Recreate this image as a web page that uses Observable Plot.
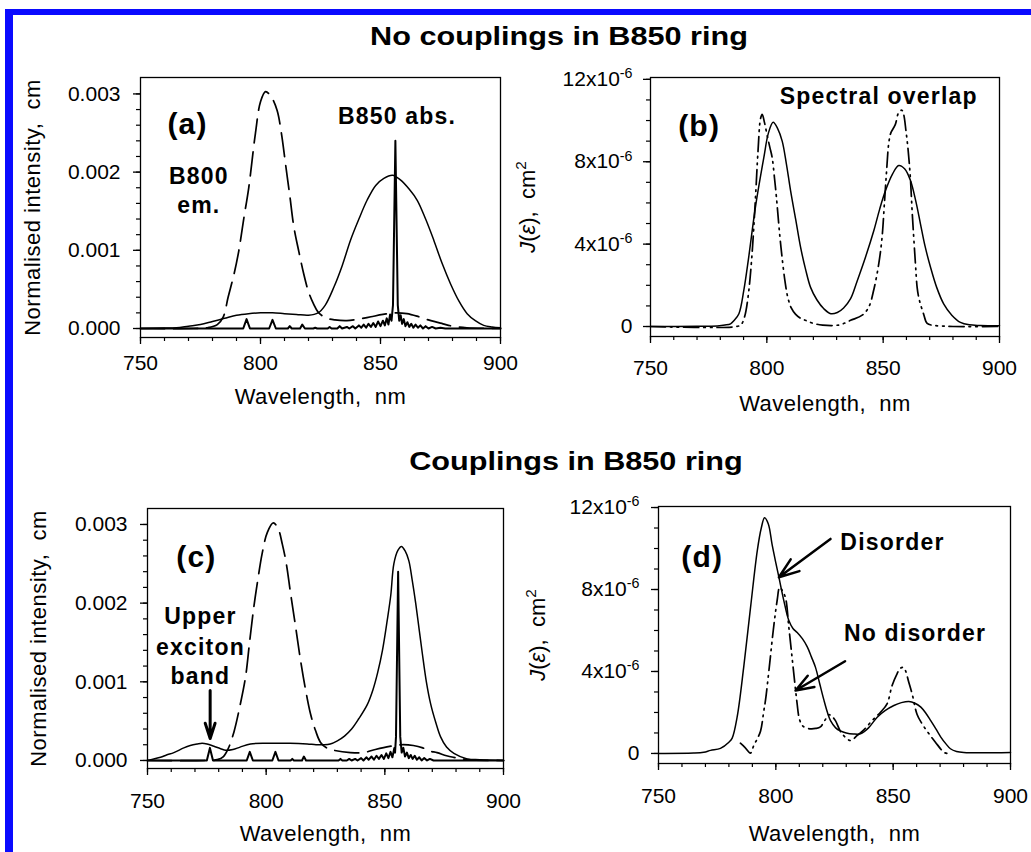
<!DOCTYPE html>
<html><head><meta charset="utf-8">
<script src="https://cdn.jsdelivr.net/npm/d3@7"></script>
<script src="https://cdn.jsdelivr.net/npm/@observablehq/plot@0.6"></script>
<style>
body{margin:0;background:#fff;}
#fig{position:relative;width:1031px;height:852px;overflow:hidden;background:#fff;font-family:"Liberation Sans",Arial,sans-serif;color:#000;}
.bt{position:absolute;left:5px;top:9px;width:1026px;height:6px;background:#0a0aff;}
.bl{position:absolute;left:5px;top:9px;width:8px;height:843px;background:#0a0aff;}
.title{position:absolute;font-weight:bold;font-size:25px;line-height:25px;white-space:nowrap;transform:translateX(-50%) scaleX(1.225);}
</style></head><body><div id="fig"></div>
<script>
// ---------- tick values ----------
const wlMajor = [750, 800, 850, 900];
const wlMinor = [750, 760, 770, 780, 790, 800, 810, 820, 830, 840, 850, 860, 870, 880, 890, 900];
const intMajor = [0, 0.001, 0.002, 0.003];
const intMinor = [0, 0.0002, 0.0004, 0.0006, 0.0008, 0.001, 0.0012, 0.0014, 0.0016, 0.0018, 0.002, 0.0022, 0.0024, 0.0026, 0.0028, 0.003];
const jMajor = [0, 4, 8, 12];            // units of 1e-6 cm^2
const jMinor = [0, 1, 2, 3, 4, 5, 6, 7, 8, 9, 10, 11, 12];

// ---------- panel (a) ----------
const aEmission = [[750,0],[772,0],[778,0.00001],[782,0.00005],[784.5,0.00015],[786.5,0.0004],[789,0.0007],[791,0.001],[793,0.0014],[795.1,0.0018],[797.9,0.0025],[800,0.0029],[802.1,0.00303],[804.5,0.00296],[806.9,0.00279],[808.7,0.0025],[810.4,0.00211],[812.2,0.0017],[813.9,0.0013],[816,0.00098],[818,0.0007],[820,0.00047],[822,0.00032],[824,0.00021],[827,0.00014],[831,0.00011],[836,0.0001],[841,0.00012],[846,0.00015],[851,0.00018],[856,0.0002],[861,0.00019],[866,0.00015],[871,0.0001],[876,0.00006],[880,0.00003],[886,0.00001],[900,0]];
const aAbsorption = [[750,0],[760,0.000005],[765,0.00001],[770,0.00003],[775,0.00005],[780,0.00009],[785,0.00013],[790,0.00017],[795,0.00019],[800,0.0002],[805,0.0002],[810,0.00019],[815,0.00018],[820,0.00017],[824,0.0002],[827,0.0003],[830.6,0.00053],[834,0.0008],[837.5,0.00113],[841,0.0014],[844.4,0.00164],[848,0.00183],[851.4,0.00192],[855,0.00196],[858.3,0.0019],[862,0.00178],[865.3,0.00164],[868.8,0.0014],[872.2,0.00113],[875.7,0.00083],[879.2,0.00057],[882.7,0.00035],[886.1,0.00019],[889.5,0.0001],[893,0.00004],[896.5,0.00002],[900,0.00001]];
const aSticks = [[750,0],[792.8,0],[794.2,0.00012],[795.6,0],[803.6,0],[805,0.00011],[806.4,0],[811.4,0],[812.2,0.00003],[813,0],[816.5,0],[817.4,0.00005],[818.5,0],[822,0],[822.8,0.00001],[823.6,0],[828,0],[828.8,0.00002],[829.6,0],[832,0],[833,0.00003],[834,0],[836,0.00002],[837,0],[838.5,0.00003],[839.5,0],[841,0.00004],[842,0.00001],[843,0.00005],[844,0.00001],[845,0.00006],[846,0.00002],[847,0.00007],[848,0.00002],[849,0.00009],[850,0.00003],[851,0.0001],[851.8,0.00004],[852.6,0.00013],[853.3,0.00005],[854,0.00018],[854.6,0.0001],[855.2,0.0003],[856.2,0.0024],[857.2,0.0003],[857.8,0.0001],[858.4,0.00017],[859,0.00006],[859.7,0.00012],[860.4,0.00003],[861.2,0.00008],[862,0.00002],[862.8,0.00006],[863.7,0.00001],[864.6,0.00005],[865.6,0.00001],[866.6,0.00004],[867.7,0],[868.8,0.00003],[870,0],[871.5,0.00002],[873,0],[875,0.00001],[877,0],[900,0]];

// ---------- panel (b) (values in 1e-6 cm^2) ----------
const bOverlap = [[750,0],[770,0.01],[778.7,0.03],[782,0.07],[784.4,0.13],[786,0.3],[788,0.62],[790.1,1.75],[792.2,3.36],[795.1,5.8],[798.7,8.2],[800.7,9.4],[802.7,9.92],[804.7,9.6],[806.6,9.0],[808.4,7.9],[810.2,6.6],[812.4,5.2],[814.5,3.85],[816.6,2.8],[818.8,1.9],[821.5,1.3],[824.5,0.86],[827.5,0.62],[830.3,0.68],[833,0.9],[836,1.35],[838.8,2.2],[842.5,3.4],[846,4.66],[848.5,5.7],[851,6.6],[854,7.4],[856.7,7.82],[859.3,7.65],[861.7,7.1],[864,6.1],[866,5.0],[868,3.9],[870.3,2.9],[873,1.9],[876,1.1],[879.5,0.55],[883.2,0.2],[887,0.08],[891.8,0.05],[900,0.04]];
const bOverlap2 = [[750,0],[787,0],[789,0.1],[790.5,0.5],[792,1.5],[793.5,3.3],[795,6],[796.2,8.5],[797.3,10.1],[798,10.3],[799,9.9],[800.1,9.3],[801.3,8.7],[802.3,8.2],[803.3,7.2],[804.1,6.3],[805.5,4.5],[806.5,3.4],[807.8,2.2],[809,1.42],[810.5,0.9],[812.3,0.6],[814.5,0.4],[816.6,0.3],[820,0.15],[824,0.07],[828.8,0.05],[832,0.1],[836,0.3],[841,0.55],[843.8,0.94],[846,1.8],[848.1,3.04],[849.5,4.3],[850.6,6.1],[851.5,7.6],[852.4,8.9],[853.3,9.4],[855.2,9.8],[856.7,10.4],[858,10.5],[858.8,10.3],[859.8,9.5],[860.7,8.6],[861.7,7.2],[862.5,5.5],[863.9,3.0],[864.6,1.9],[865.3,1.4],[866,1.1],[867.4,0.6],[868.9,0.15],[872,0.05],[876,0.02],[880,0],[900,0]];

// ---------- panel (c) ----------
const cEmission = [[750,0],[774,0],[779.4,0.00001],[782,0.00005],[784,0.00015],[786.4,0.00036],[789,0.0007],[791.3,0.00106],[793,0.0015],[794.8,0.00195],[796.5,0.0023],[798.3,0.00263],[800.5,0.0029],[803,0.00302],[805,0.00295],[806.8,0.00275],[808.5,0.0025],[810.3,0.00212],[812.4,0.0017],[814.5,0.00127],[816.6,0.0009],[818.7,0.00059],[820.8,0.00038],[822.9,0.00023],[825.5,0.00016],[828.5,0.00013],[835.5,0.0001],[841,0.0001],[846,0.00014],[852,0.00018],[857,0.0002],[862,0.00019],[866,0.00016],[869,0.00012],[872,0.0001],[876,0.00006],[879,0.00004],[885,0.00001],[900,0]];
const cAbsorption = [[750,0],[755.5,0.00004],[758,0.00007],[761.1,0.0001],[765.3,0.00016],[768,0.00019],[770.9,0.00021],[773,0.00022],[775.1,0.00021],[778,0.00018],[780.8,0.00015],[783,0.00013],[786,0.00014],[789,0.00017],[793.4,0.00021],[800,0.00022],[805,0.00022],[810,0.00022],[817.3,0.00021],[821,0.0002],[824,0.0002],[827,0.00021],[830,0.00025],[833,0.00031],[836,0.0004],[839,0.00053],[842.6,0.00071],[845,0.0009],[847,0.00112],[849,0.0014],[851,0.00178],[852.5,0.0021],[853.8,0.0025],[855.5,0.00267],[857,0.00272],[858.6,0.00266],[860.1,0.00254],[861.5,0.0023],[863,0.002],[864.4,0.00168],[865.8,0.00136],[867.5,0.001],[869.3,0.00072],[871.5,0.00048],[873.5,0.0003],[876,0.00017],[879.1,0.00009],[884.7,0.00002],[890,0.00001],[900,0]];
const cSticks = [[750,0],[775,0],[776.3,0.00016],[777.6,0],[791.8,0],[793.1,0.00011],[794.4,0],[802.6,0],[803.9,0.00011],[805.2,0],[810.3,0],[811,0.00002],[811.7,0],[815.1,0],[815.9,0.00005],[816.8,0],[830.5,0],[831.3,0.00002],[832.1,0],[834,0],[835,0.00002],[836,0],[837.5,0.00002],[838.5,0],[840,0.00003],[841,0],[842.2,0.00004],[843.2,0.00001],[844.4,0.00005],[845.4,0.00001],[846.5,0.00006],[847.5,0.00002],[848.6,0.00007],[849.6,0.00002],[850.6,0.00009],[851.5,0.00003],[852.4,0.00011],[853.2,0.00004],[854,0.00016],[854.3,0.0001],[854.7,0.0003],[855.6,0.0024],[856.5,0.0003],[857.1,0.0001],[857.8,0.00016],[858.5,0.00005],[859.3,0.0001],[860.1,0.00003],[860.9,0.00007],[861.7,0.00002],[862.6,0.00006],[863.5,0.00001],[864.5,0.00004],[865.5,0],[866.6,0.00003],[867.8,0],[869,0.00002],[870.5,0],[900,0]];

// ---------- panel (d) (values in 1e-6 cm^2) ----------
const dDisorder = [[750,0],[765,0.02],[769.3,0.06],[772.2,0.15],[776.4,0.25],[780,0.55],[781.4,0.75],[783.5,1.77],[786.3,4.2],[789.2,7.1],[792.1,9.9],[793.8,11.0],[795.2,11.5],[796.8,11.2],[798.4,10.2],[800,9.3],[801.3,8.6],[803.4,7.46],[805.5,6.5],[807.3,6.1],[809.1,5.9],[811.3,5.6],[813.4,5.2],[815.2,4.7],[816.9,4.2],[818.7,3.4],[820.5,2.6],[822,2.0],[823.3,1.6],[825.5,1.25],[827.5,1.1],[830,1.0],[833,0.95],[836.1,0.96],[839.5,1.25],[843.2,1.77],[846.7,2.1],[850.3,2.34],[853.5,2.48],[856.7,2.54],[859.3,2.45],[861.8,2.26],[864,1.95],[866,1.6],[868.2,1.2],[870.3,0.8],[872.4,0.48],[874.4,0.23],[877,0.1],[880.1,0.05],[900,0.05]];
const dNoDisorder = [[784.9,0.5],[786.8,0.3],[789.2,0.02],[790.6,0.39],[792,0.7],[793.5,1.1],[794.9,2.1],[795.6,2.6],[797.2,4.2],[798.9,6.0],[800.6,7.5],[801.6,8.1],[802.5,8.0],[804.1,7.6],[805.5,6.2],[807,4.6],[808.4,3.1],[809.1,2.4],[809.8,1.8],[810.8,1.45],[811.9,1.3],[814.8,1.2],[817,1.22],[819,1.3],[820.8,1.6],[822.6,1.89],[824,1.8],[825.4,1.6],[828,1.0],[831.8,0.63],[834.7,0.88],[837.5,1.15],[841,1.6],[844.5,2.0],[847.4,2.42],[849.5,3.3],[851.7,3.9],[853,4.15],[854.2,4.2],[855.2,4.05],[856.6,3.5],[858.1,2.9],[860.2,1.9],[862.3,1.45],[865,1.0],[868,0.55],[871.6,0.06],[873,0]];

// ---------- labels ----------
const titleTop = "No couplings in B850 ring";
const titleBottom = "Couplings in B850 ring";
const xTitle = "Wavelength,\u00a0 nm";
const yTitleInt = "Normalised intensity,\u00a0 cm";
const yTitleJ = "J(ε),\u00a0 cm2";

const FONT = "Liberation Sans, Arial, Helvetica, sans-serif";
const DASH = "24 9";
const DASHDOT = "15 5 1.6 5 1.6 5";

function line(data, opts = {}) {
  return Plot.line(data, {x: d => d[0], y: d => d[1], stroke: "black", strokeWidth: 1.5, curve: "catmull-rom", ...opts});
}

function panel(cfg) {
  const marks = [
    Plot.frame({stroke: "black", strokeWidth: 1.3}),
    Plot.axisX({ticks: wlMinor, tickSize: 4, tickFormat: () => "", label: null, strokeWidth: 1.2}),
    Plot.axisX({ticks: wlMajor, tickSize: 7, tickPadding: cfg.xPad, tickFormat: d => String(d), label: null, strokeWidth: 1.3}),
    Plot.axisY({ticks: cfg.yMinor, tickSize: 4, tickFormat: () => "", label: null, strokeWidth: 1.2}),
    Plot.axisY({ticks: cfg.yMajor, tickSize: 7, tickPadding: cfg.yPad, tickFormat: cfg.yFmt, label: null, strokeWidth: 1.3}),
    ...cfg.lines,
    Plot.text([xTitle], {frameAnchor: "bottom", dy: cfg.xTitleDy, lineAnchor: "top", textAnchor: "middle", fontSize: 22}),
    Plot.text([cfg.yTitle], {frameAnchor: "left", dx: cfg.yTitleDx, rotate: -90, lineAnchor: "middle", textAnchor: "middle", fontSize: 22}),
    ...cfg.extra
  ];
  const svg = Plot.plot({
    width: cfg.width, height: cfg.height,
    marginLeft: cfg.ml, marginRight: cfg.mr, marginTop: cfg.mt, marginBottom: cfg.mb,
    style: {fontFamily: FONT, fontSize: "21px", color: "black", background: "transparent", overflow: "visible"},
    x: {domain: [750, 900]},
    y: {domain: cfg.yDomain},
    marks
  });
  svg.style.position = "absolute";
  svg.style.left = cfg.left + "px";
  svg.style.top = cfg.top + "px";
  d3.select(svg).selectAll("text").each(function() {
    const t = this.textContent;
    const s = d3.select(this);
    if (t.includes("^")) {          // superscript exponent in tick labels
      const [base, sup] = t.split("^");
      this.textContent = base;
      s.append("tspan").attr("dy", "-0.55em").attr("font-size", "0.68em").text(sup);
    } else if (t.startsWith("J(")) { // italic J(ε) and squared unit
      this.textContent = "";
      s.append("tspan").attr("font-style", "italic").text("J");
      s.append("tspan").text("(");
      s.append("tspan").attr("font-style", "italic").text("ε");
      s.append("tspan").text("),\u00a0 cm");
      s.append("tspan").attr("dy", "-0.55em").attr("font-size", "0.7em").text("2");
    } else if (t.startsWith("Wavelength") || t.startsWith("Normalised")) {
      s.attr("letter-spacing", "0.5px");
    }
  });
  d3.select(svg).selectAll('g[font-weight="bold"]').attr("letter-spacing", "1.2px");
  return svg;
}

const annot = (data, opts) => Plot.text(data, {x: d => d[1], y: d => d[2], text: d => d[0], fontWeight: "bold", fontSize: 23, lineAnchor: "bottom", ...opts});
const intFmt = d => d.toFixed(3);
const jFmt = d => d === 0 ? "0" : `${d}x10^-6`;

const fig = document.getElementById("fig");

// (a)
fig.appendChild(panel({
  left: 0, top: 60, width: 515, height: 360, ml: 140, mr: 15, mt: 17, mb: 83,
  yDomain: [-0.000115, 0.00321], yMajor: intMajor, yMinor: intMinor, yFmt: intFmt,
  xPad: 11, yPad: 13, xTitleDy: 51, yTitleDx: -108, yTitle: yTitleInt,
  lines: [
    line(aEmission, {strokeDasharray: DASH, strokeWidth: 1.7}),
    line(aAbsorption),
    line(aSticks, {curve: "linear", strokeWidth: 2})
  ],
  extra: [
    annot([["(a)", 761.2, 0.00249]], {fontSize: 30, textAnchor: "start"}),
    annot([["B800", 774.3, 0.00185], ["em.", 774.3, 0.00148], ["B850 abs.", 856.9, 0.00261]], {textAnchor: "middle"})
  ]
}));

// (b)
fig.appendChild(panel({
  left: 515, top: 60, width: 516, height: 360, ml: 135, mr: 32, mt: 17, mb: 84,
  yDomain: [-0.485, 12.09], yMajor: jMajor, yMinor: jMinor, yFmt: jFmt,
  xPad: 17, yPad: 11, xTitleDy: 59, yTitleDx: -123, yTitle: yTitleJ,
  lines: [
    line(bOverlap),
    line(bOverlap2, {strokeDasharray: DASHDOT, strokeWidth: 1.7})
  ],
  extra: [
    annot([["(b)", 770.9, 9.27]], {fontSize: 30, textAnchor: "middle"}),
    annot([["Spectral overlap", 848.1, 10.78]], {textAnchor: "middle"})
  ]
}));

// (c)
fig.appendChild(panel({
  left: 0, top: 490, width: 515, height: 362, ml: 147, mr: 12, mt: 18, mb: 84,
  yDomain: [-0.000102, 0.003203], yMajor: intMajor, yMinor: intMinor, yFmt: intFmt,
  xPad: 18, yPad: 13, xTitleDy: 57, yTitleDx: -109, yTitle: yTitleInt,
  lines: [
    line(cEmission, {strokeDasharray: DASH, strokeWidth: 1.7}),
    line(cAbsorption),
    line(cSticks, {curve: "linear", strokeWidth: 2})
  ],
  extra: [
    annot([["(c)", 770.6, 0.00246]], {fontSize: 30, textAnchor: "middle"}),
    annot([["Upper", 772.3, 0.00173], ["exciton", 772.3, 0.001335], ["band", 772.3, 0.000975]], {textAnchor: "middle"}),
    Plot.arrow([[776.4, 0.00089, 776.4, 0.00028]], {x1: d => d[0], y1: d => d[1], x2: d => d[2], y2: d => d[3], stroke: "black", strokeWidth: 3, headLength: 18, headAngle: 36})
  ]
}));

// (d)
fig.appendChild(panel({
  left: 515, top: 490, width: 516, height: 362, ml: 143, mr: 21, mt: 16, mb: 89,
  yDomain: [-0.49, 12.05], yMajor: jMajor, yMinor: jMinor, yFmt: jFmt,
  xPad: 18, yPad: 12, xTitleDy: 62, yTitleDx: -121, yTitle: yTitleJ,
  lines: [
    line(dDisorder),
    line(dNoDisorder, {strokeDasharray: DASHDOT, strokeWidth: 1.7})
  ],
  extra: [
    annot([["(d)", 768.6, 9.09]], {fontSize: 30, textAnchor: "middle"}),
    annot([["Disorder", 827.5, 9.94], ["No disorder", 829, 5.51]], {textAnchor: "start"}),
    Plot.arrow([[823.3, 10.47, 801.3, 8.6], [829.5, 4.5, 808.4, 3.07]], {x1: d => d[0], y1: d => d[1], x2: d => d[2], y2: d => d[3], stroke: "black", strokeWidth: 2.5, headLength: 16, headAngle: 40})
  ]
}));

// titles
function addTitle(text, cx, top) {
  const div = document.createElement("div");
  div.className = "title";
  div.textContent = text;
  div.style.left = cx + "px";
  div.style.top = top + "px";
  fig.appendChild(div);
}
addTitle(titleTop, 559, 24);
addTitle(titleBottom, 576, 449);

// blue border
const bt = document.createElement("div"); bt.className = "bt"; fig.appendChild(bt);
const bl = document.createElement("div"); bl.className = "bl"; fig.appendChild(bl);
</script>
</body></html>
